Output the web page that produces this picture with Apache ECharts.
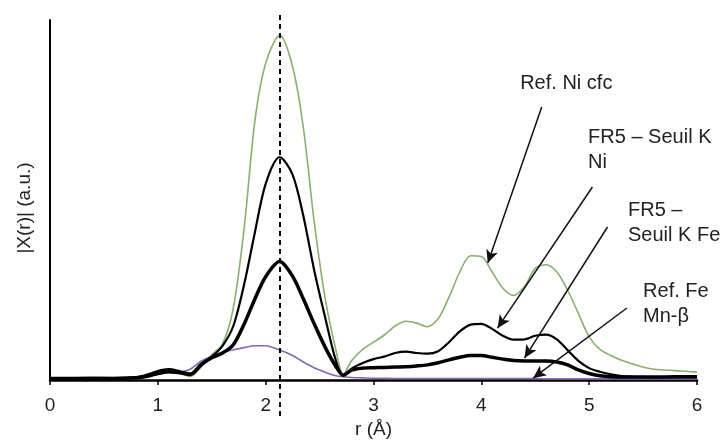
<!DOCTYPE html>
<html>
<head>
<meta charset="utf-8">
<script src="https://cdn.jsdelivr.net/npm/echarts@6/dist/echarts.min.js"></script>
<style>html,body{margin:0;padding:0;background:#fff}#c{width:726px;height:441px}</style>
</head>
<body>
<div id="c"></div>
<script>
// r (Å) sample positions
const r = [0,0.2,0.4,0.6,0.8,0.9,1.0,1.1,1.2,1.3,1.4,1.5,1.6,1.7,1.8,1.9,2.0,2.13,2.25,2.35,2.45,2.55,2.65,2.72,2.8,2.9,3.0,3.1,3.2,3.3,3.4,3.5,3.6,3.7,3.8,3.9,4.0,4.1,4.2,4.3,4.4,4.5,4.6,4.7,4.8,4.9,5.0,5.1,5.2,5.3,5.4,5.5,5.6,5.8,6.0];
// Ref. Ni cfc (green)
const refNi = [0.5,0.6,0.8,0.7,0.8, 1.3,2.2,2.9,2.0,1.0, 3.5,7,10,20,42, 72,88,95.8,87,70, 44,23,8.5,1.6,5.5, 8.5,10.5,12.5,15,16.3, 15.8,14.8,17,23,30, 34.5,34.3,30,25.5,23.5, 26,31,32,30,25, 18.5,12,8.5,6.8,5.5, 4.5,3.6,3.0,2.6,2.2];
// FR5 – Seuil K Ni (thin black)
const fr5Ni = [0.4,0.5,0.5,0.5,0.8, 1.5,2.5,3.0,2.5,1.8, 4.5,6.5,9.5,15,26.5, 41,54.5,61.9,57,45.5, 30.5,17.6,5.5,1.3,3.2, 4.7,5.8,6.5,7.5,7.9, 7.5,7.3,8.0,10.5,13.5, 15.4,15.6,14.2,12.3,11.2, 11.3,12.3,12.6,11.3,8.3, 5.3,3.3,2.3,1.6,1.1, 0.9,0.8,0.8,0.8,0.8];
// FR5 – Seuil K Fe (thick black)
const fr5Fe = [0.4,0.4,0.4,0.4,0.6, 1.0,1.8,2.3,2.0,1.5, 4.2,6.2,7.5,9.8,15.5, 22.5,28.7,32.9,28.8,22.5, 15.6,9.2,3.8,1.3,2.8, 3.3,3.4,3.5,3.6,3.7, 3.9,4.2,4.8,5.6,6.3, 6.8,6.8,6.3,5.8,5.4, 5.3,5.3,5.3,5.0,4.2, 2.8,1.8,1.2,0.9,0.8, 0.8,0.8,0.8,0.9,0.9];
// Ref. Fe Mn-β (purple)
const refFe = [0.4,0.4,0.4,0.4,0.6, 1.0,1.6,2.0,2.2,3.0, 5.2,6.6,7.6,8.4,9.0, 9.5,9.5,8.3,6.8,5.0, 3.4,2.2,1.2,0.9,0.7, 0.6,0.5,0.5,0.4,0.4, 0.4,0.4,0.4,0.4,0.4, 0.4,0.4,0.4,0.4,0.4, 0.4,0.4,0.3,0.3,0.3, 0.3,0.3,0.3,0.3,0.3, 0.3,0.3,0.3,0.3,0.3];

const xTicks = [0,1,2,3,4,5,6];
// annotations (data coordinates)
const noteLabels = ['Ref. Ni cfc', 'FR5 – Seuil K\nNi', 'FR5 –\nSeuil K Fe', 'Ref. Fe\nMn-β'];
const noteAt = [[4.36,82.5],[4.99,64],[5.36,43.5],[5.50,21]];
const arrowFrom = [[4.56,75.8],[5.03,53.6],[5.17,42.5],[5.35,20]];
const arrowTo = [[4.06,32.5],[4.15,14.4],[4.40,6.1],[4.48,0.5]];
const refLineR = [2.133, 2.133];
const refLineY = [101.4, -11];

const zip = (a, b) => a.map((v, i) => [v, b[i]]);
const FONT = '"Liberation Sans", Arial, sans-serif';

const chart = echarts.init(document.getElementById('c'), null, {renderer: 'canvas'});
chart.setOption({
  animation: false,
  backgroundColor: '#fff',
  grid: {left: 50, right: 29, top: 20, bottom: 61, containLabel: false, outerBoundsMode: 'none'},
  xAxis: {
    type: 'value', min: 0, max: 6, interval: 1,
    name: 'r (Å)', nameLocation: 'middle', nameGap: 40,
    nameTextStyle: {fontFamily: FONT, fontSize: 19, color: '#222'},
    axisLine: {lineStyle: {color: '#000', width: 2.5}},
    axisTick: {show: true, length: 5, lineStyle: {color: '#000', width: 1.5}},
    axisLabel: {fontFamily: FONT, fontSize: 19, color: '#222', margin: 16,
      formatter: v => xTicks.indexOf(v) >= 0 ? String(v) : ''},
    splitLine: {show: false}
  },
  yAxis: {
    type: 'value', min: 0, max: 100,
    axisLine: {show: true, lineStyle: {color: '#000', width: 2}},
    axisTick: {show: false}, axisLabel: {show: false}, splitLine: {show: false}
  },
  graphic: [{
    type: 'text', x: 25, y: 208, rotation: Math.PI / 2,
    style: {text: '|X(r)| (a.u.)', fontFamily: FONT, fontSize: 19, fill: '#222', align: 'center', verticalAlign: 'middle'}
  }],
  series: [
    {name: 'Ref. Ni cfc', type: 'line', data: zip(r, refNi), smooth: 0.3, symbol: 'none', clip: false,
      lineStyle: {color: '#88b06f', width: 1.6},
      markLine: {silent: true, symbol: ['none', 'arrow'], symbolSize: [9, 13], label: {show: false},
        lineStyle: {color: '#111', width: 1.5, type: 'solid'},
        itemStyle: {color: '#111'},
        emphasis: {disabled: true},
        data: arrowFrom.map((p, i) => [{coord: p}, {coord: arrowTo[i]}])}
    },
    {name: 'Ref. Fe Mn-β', type: 'line', data: zip(r, refFe), smooth: 0.3, symbol: 'none', clip: false,
      lineStyle: {color: '#8468b4', width: 1.6}},
    {name: 'FR5 – Seuil K Ni', type: 'line', data: zip(r, fr5Ni), smooth: 0.3, symbol: 'none', clip: false,
      lineStyle: {color: '#000', width: 2.2},
      markPoint: {silent: true, symbol: 'circle', symbolSize: 0,
        label: {show: true, position: 'right', distance: 0, fontFamily: FONT, fontSize: 20, color: '#222', lineHeight: 25, align: 'left',
          formatter: p => p.name},
        data: noteAt.map((p, i) => ({name: noteLabels[i], coord: p}))}
    },
    {name: 'FR5 – Seuil K Fe', type: 'line', data: zip(r, fr5Fe), smooth: 0.3, symbol: 'none', clip: false,
      lineStyle: {color: '#000', width: 3.5}},
    {name: 'ref', type: 'line', data: zip(refLineR, refLineY), symbol: 'none', clip: false, silent: true,
      lineStyle: {color: '#000', width: 2, type: [5, 4]}}
  ]
});
</script>
</body>
</html>
